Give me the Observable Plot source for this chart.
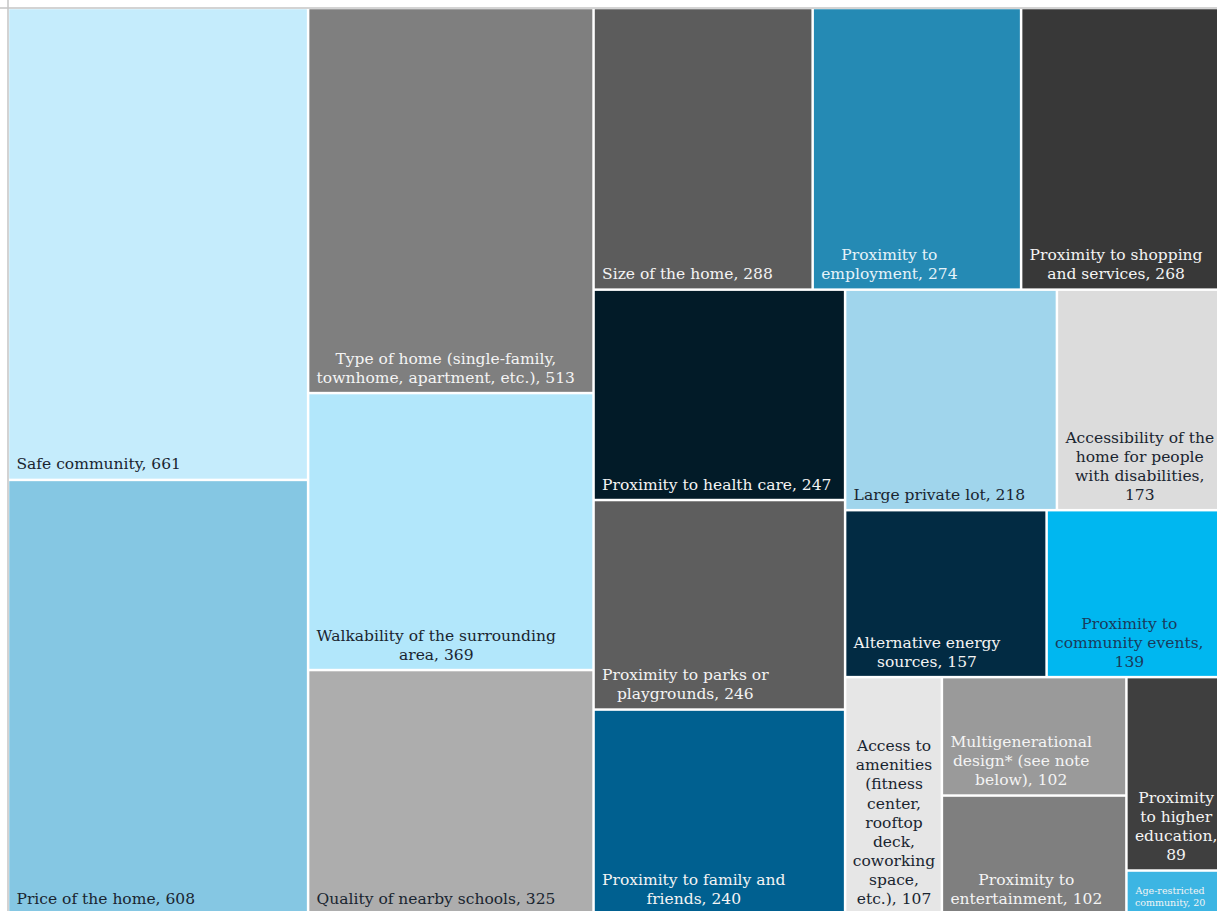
<!DOCTYPE html>
<html>
<head>
<meta charset="utf-8">
<script src="https://cdn.jsdelivr.net/npm/d3@7"></script>
<script src="https://cdn.jsdelivr.net/npm/@observablehq/plot@0.6"></script>
<style>
  html, body { margin: 0; padding: 0; background: #ffffff; }
  #chart svg { display: block; }
</style>
</head>
<body>
<div id="chart"></div>
<script>
// ---- data ----
const categories = [
  "Safe community", "Price of the home", "Type of home", "Walkability of the surrounding area",
  "Quality of nearby schools", "Size of the home", "Proximity to employment",
  "Proximity to shopping and services", "Proximity to health care", "Proximity to parks or playgrounds",
  "Proximity to family and friends", "Large private lot", "Accessibility of the home for people with disabilities",
  "Alternative energy sources", "Proximity to community events", "Access to amenities",
  "Multigenerational design", "Proximity to entertainment", "Proximity to higher education",
  "Age-restricted community"
];
const values = [661, 608, 513, 369, 325, 288, 274, 268, 247, 246, 240, 218, 173, 157, 139, 107, 102, 102, 89, 20];
const labels = [
  "Safe community, 661",
  "Price of the home, 608",
  "Type of home (single-family,\ntownhome, apartment, etc.), 513",
  "Walkability of the surrounding\narea, 369",
  "Quality of nearby schools, 325",
  "Size of the home, 288",
  "Proximity to\nemployment, 274",
  "Proximity to shopping\nand services, 268",
  "Proximity to health care, 247",
  "Proximity to parks or\nplaygrounds, 246",
  "Proximity to family and\nfriends, 240",
  "Large private lot, 218",
  "Accessibility of the\nhome for people\nwith disabilities,\n173",
  "Alternative energy\nsources, 157",
  "Proximity to\ncommunity events,\n139",
  "Access to\namenities\n(fitness\ncenter,\nrooftop\ndeck,\ncoworking\nspace,\netc.), 107",
  "Multigenerational\ndesign* (see note\nbelow), 102",
  "Proximity to\nentertainment, 102",
  "Proximity\nto higher\neducation,\n89",
  "Age-restricted\ncommunity, 20"
];
// number of tiles in each successive strip of the squarified layout
const rowSizes = [2, 3, 3, 3, 2, 2, 1, 2, 1, 1];

// ---- styles ----
const palette = [
  "#c5ecfc", "#85c7e3", "#7f7f7f", "#b2e7fb", "#adadad", "#5c5c5c", "#258ab4",
  "#383838", "#021b28", "#5e5e5e", "#006090", "#a0d5ec", "#dcdcdc", "#022b43",
  "#00b7f0", "#e6e6e6", "#9a9a9a", "#7f7f7f", "#3f3f3f", "#3cb5e3"
];
const DARK = "#1a2530", LIGHT = "#f4f4f4";
const textPalette = [
  DARK, DARK, LIGHT, DARK, DARK, LIGHT, "#e6f3f9", LIGHT, LIGHT, LIGHT,
  LIGHT, DARK, DARK, LIGHT, "#1a3b5c", DARK, LIGHT, LIGHT, LIGHT, LIGHT
];
const FONT = "'DejaVu Serif', Georgia, serif";
const FS = 15.5, FS_SMALL = 9.5;

// ---- layout ----
const W = 1217, H = 906, OX = 8, OY = 8;
const root = d3.hierarchy({children: categories.map((name, i) => ({name, value: values[i], i}))})
  .sum(d => d.value || 0);

function stripTile(parent, x0, y0, x1, y1) {
  const nodes = parent.children;
  let remaining = parent.value, i0 = 0;
  for (const k of rowSizes) {
    const row = {children: nodes.slice(i0, i0 + k)};
    row.value = d3.sum(row.children, c => c.value);
    const dx = x1 - x0, dy = y1 - y0;
    if (dx < dy) {
      const ny = y0 + dy * row.value / remaining;
      d3.treemapDice(row, x0, y0, x1, ny); y0 = ny;
    } else {
      const nx = x0 + dx * row.value / remaining;
      d3.treemapSlice(row, x0, y0, nx, y1); x0 = nx;
    }
    remaining -= row.value; i0 += k;
  }
}
d3.treemap().tile(stripTile).size([W, H]).round(false)(root);

const ctx = document.createElement("canvas").getContext("2d");
const PAD = 8;
const leaves = root.leaves().map(n => {
  const i = n.data.i;
  const fs = values[i] < 50 ? FS_SMALL : FS;
  ctx.font = `${fs}px ${FONT}`;
  const block = d3.max(labels[i].split("\n"), l => ctx.measureText(l).width);
  const tw = n.x1 - n.x0;
  const cx = block + 2 * PAD <= tw ? n.x0 + PAD + block / 2 : (n.x0 + n.x1) / 2;
  return {i, x0: n.x0, x1: n.x1, y0: n.y0, y1: n.y1, cx, fs,
          label: labels[i], fill: palette[i], color: textPalette[i]};
});

const chart = Plot.plot({
  width: 1217,
  height: 911,
  margin: 0,
  x: {domain: [0, W], range: [OX, OX + W], axis: null},
  y: {domain: [0, H], range: [OY, OY + H], axis: null},
  style: {fontFamily: FONT, background: "#ffffff"},
  marks: [
    Plot.ruleX([0], {stroke: "#c4c4c4", strokeWidth: 1.5, dx: -0.5}),
    Plot.ruleY([0], {stroke: "#c4c4c4", strokeWidth: 1.5, dy: -0.5}),
    Plot.rect(leaves, {
      x1: "x0", x2: "x1", y1: "y0", y2: "y1",
      fill: d => d.fill, inset: 1.25
    }),
    Plot.text(leaves.filter(d => d.fs === FS), {
      x: "cx", y: "y1", text: "label",
      fill: d => d.color, fontSize: FS,
      textAnchor: "middle", lineAnchor: "bottom", lineHeight: 1.226, dy: -11
    }),
    Plot.text(leaves.filter(d => d.fs !== FS), {
      x: "cx", y: "y1", text: "label",
      fill: d => d.color, fontSize: FS_SMALL,
      textAnchor: "middle", lineAnchor: "bottom", lineHeight: 1.2, dy: -9
    })
  ]
});
document.getElementById("chart").append(chart);
</script>
</body>
</html>
